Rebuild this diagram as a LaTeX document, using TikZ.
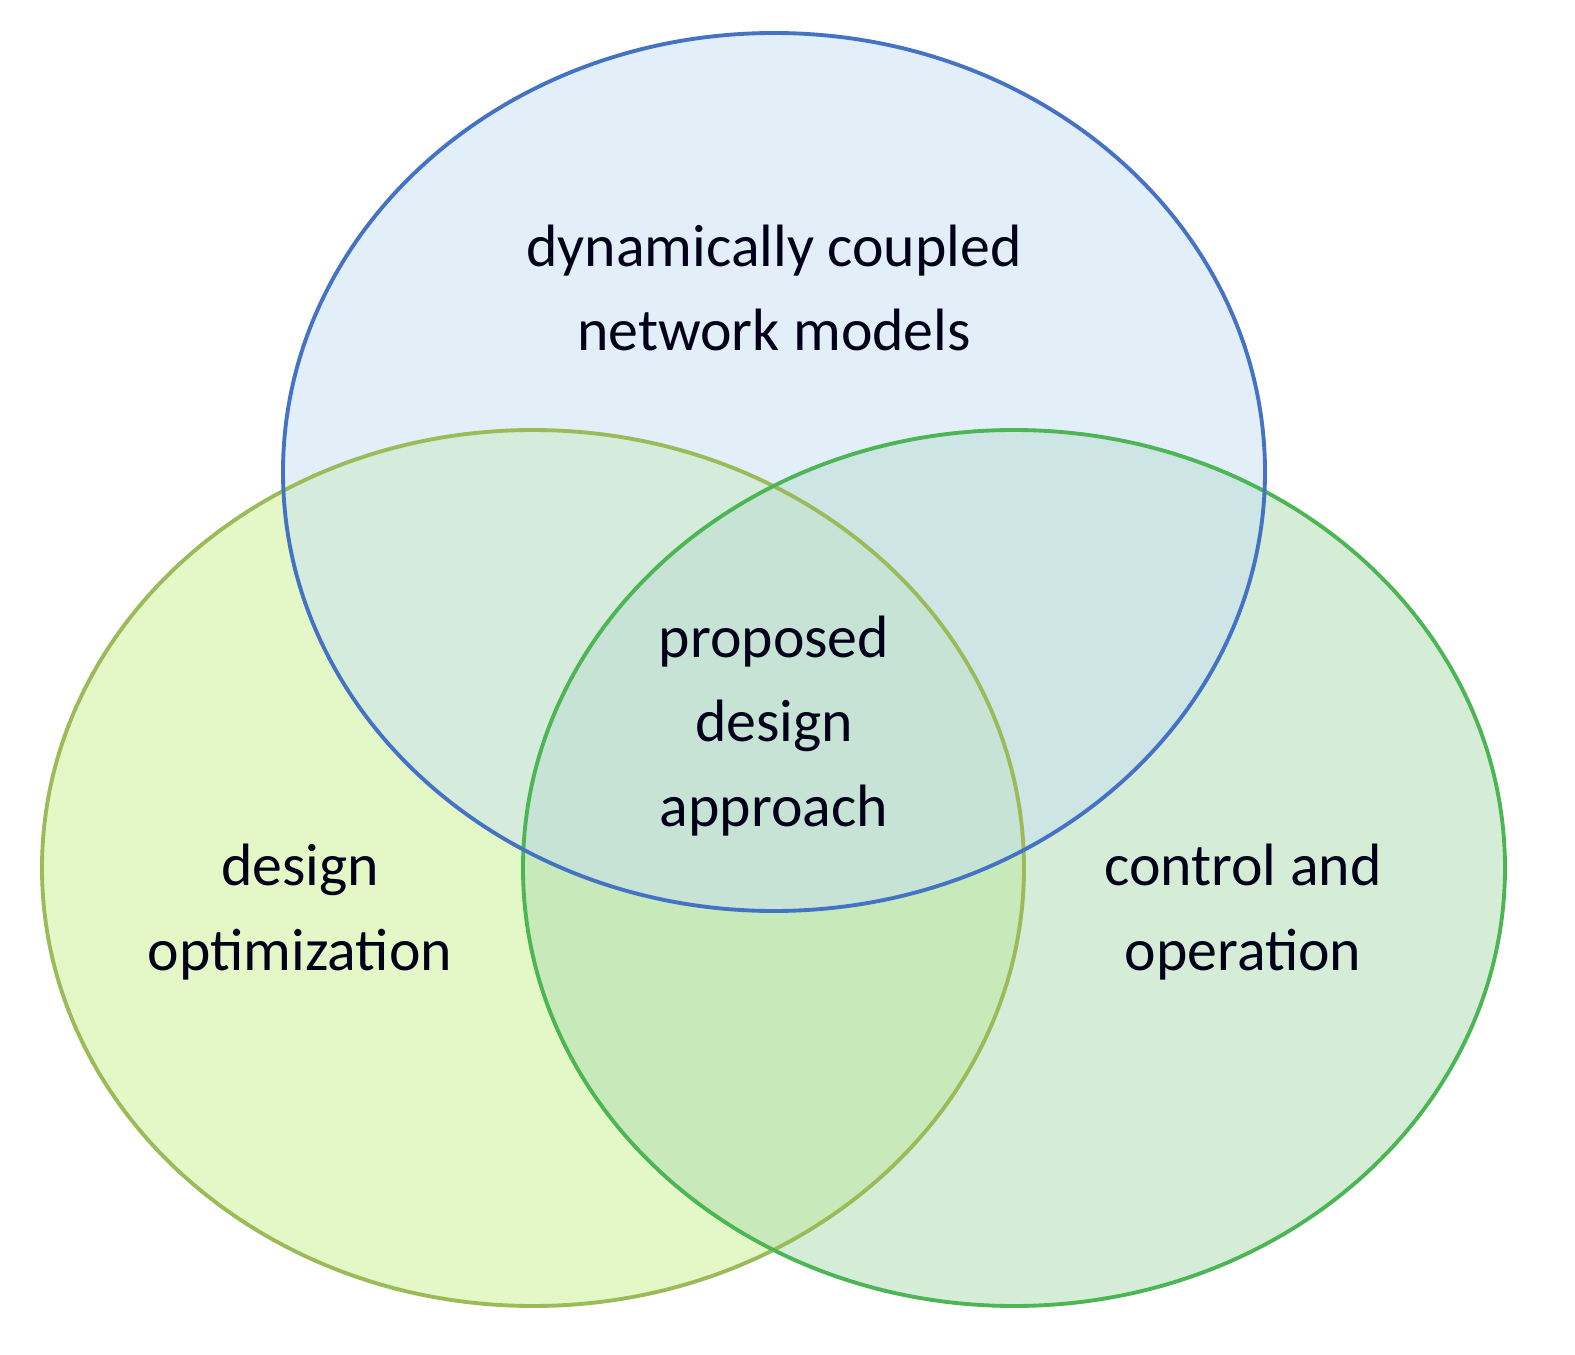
\documentclass[tikz,border=0pt]{standalone}
\usepackage{fontspec}
\setmainfont{Carlito}
\definecolor{topfill}{RGB}{198,222,242}
\definecolor{topline}{RGB}{68,114,196}
\definecolor{leftfill}{RGB}{202,240,142}
\definecolor{leftline}{RGB}{155,187,89}
\definecolor{rightfill}{RGB}{172,220,176}
\definecolor{rightline}{RGB}{76,182,84}
\begin{document}
\begin{tikzpicture}[x=0.01cm, y=-0.01cm,
    lbl/.style={align=center, font=\fontsize{17}{24}\selectfont, text=black!90!blue}]
    \useasboundingbox (0, 0) rectangle (1575, 1355);
    \fill[leftfill, opacity=0.5] (533, 868) ellipse [x radius=491, y radius=438];
    \fill[rightfill, opacity=0.5] (1014, 868) ellipse [x radius=491, y radius=438];
    \fill[topfill, opacity=0.5] (774, 472) ellipse [x radius=491, y radius=439];
    \draw[leftline, line width=1.1pt] (533, 868) ellipse [x radius=491, y radius=438];
    \draw[rightline, line width=1.1pt] (1014, 868) ellipse [x radius=491, y radius=438];
    \draw[topline, line width=1.1pt] (774, 472) ellipse [x radius=491, y radius=439];
    \node[lbl] (models) at (774, 288) {dynamically coupled\\network models};
    \node[lbl] (approach) at (774, 726) {proposed\\design\\approach};
    \node[lbl] (optim) at (300, 912) {design\\optimization};
    \node[lbl] (control) at (1243, 912) {control and\\operation};
\end{tikzpicture}
\end{document}
